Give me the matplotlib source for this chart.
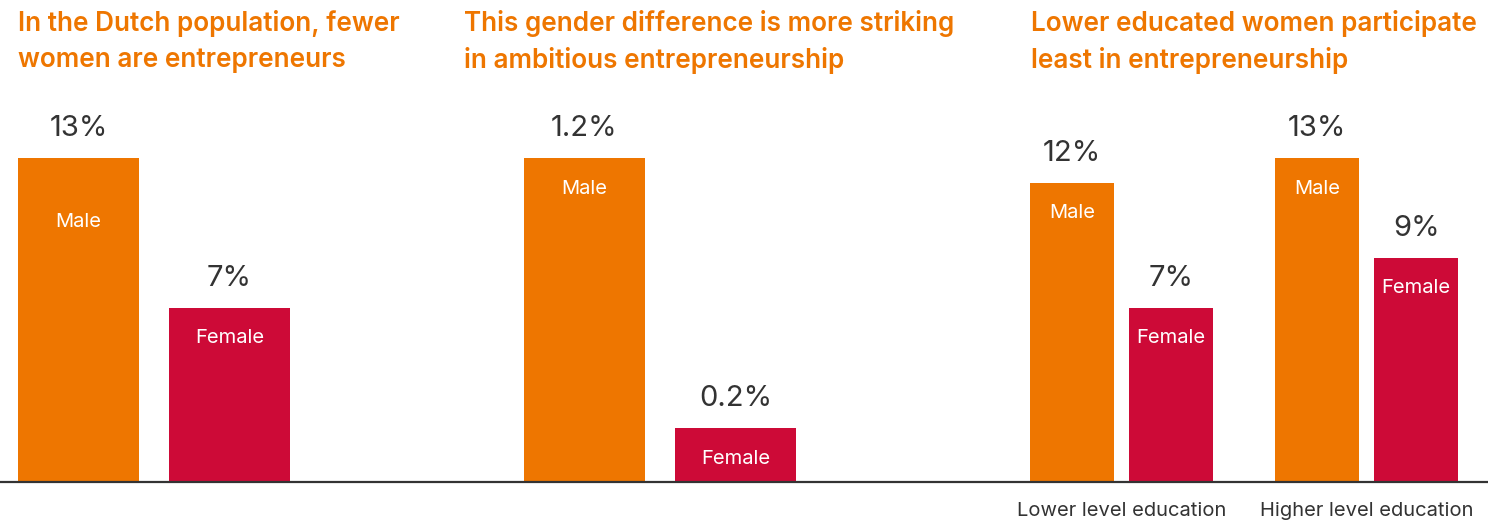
import matplotlib
matplotlib.use("Agg")
import matplotlib.pyplot as plt
from matplotlib.lines import Line2D

plt.rcParams['font.family'] = ['Inter', 'DejaVu Sans']

ORANGE = '#EE7600'
RED = '#CD0A37'
TEXT = '#333333'

# --- data ---
titles = [
    "In the Dutch population, fewer\nwomen are entrepreneurs",
    "This gender difference is more striking\nin ambitious entrepreneurship",
    "Lower educated women participate\nleast in entrepreneurship",
]
sexes = ["Male", "Female"]
population = [13, 7]          # % entrepreneurs
ambitious = [1.2, 0.2]        # % ambitious entrepreneurs
edu_groups = ["Lower level education", "Higher level education"]
edu_male = [12, 13]
edu_female = [7, 9]

W, H = 1488, 521
fig = plt.figure(figsize=(W / 100, H / 100), dpi=100)

base_px = 482      # baseline, pixels from top
top_px = 158       # height of the tallest bar

def add_axes(left, right):
    return fig.add_axes([left / W, 1 - base_px / H, (right - left) / W, (base_px - top_px) / H])

def value_label(ax, x, v):
    txt = f"{v:g}%"
    ax.annotate(txt, (x, v), xytext=(0, 21), textcoords='offset points',
                ha='center', va='center', fontsize=21, color=TEXT, annotation_clip=False)

def inside_label(ax, x, v, txt, drop=22):
    ax.annotate(txt, (x, v), xytext=(0, -drop), textcoords='offset points',
                ha='center', va='center', fontsize=14.5, color='white', annotation_clip=False)

def clean(ax):
    ax.set_axis_off()

# panel 1
ax1 = add_axes(18, 290)
ax1.bar([0, 1], population, width=0.8, color=[ORANGE, RED])
ax1.set_xlim(-0.4, 1.4)
ax1.set_ylim(0, 13)
for i, v in enumerate(population):
    value_label(ax1, i, v)
inside_label(ax1, 0, population[0], sexes[0], drop=46)
inside_label(ax1, 1, population[1], sexes[1])
clean(ax1)

# panel 2
ax2 = add_axes(524, 796)
ax2.bar([0, 1], ambitious, width=0.8, color=[ORANGE, RED])
ax2.set_xlim(-0.4, 1.4)
ax2.set_ylim(0, 1.2)
for i, v in enumerate(ambitious):
    value_label(ax2, i, v)
    inside_label(ax2, i, v, sexes[i])
clean(ax2)

# panel 3
ax3 = add_axes(1030, 1458)
gap = 0.405
bw = 0.342
xs = range(len(edu_groups))
xm = [x - gap / 2 for x in xs]
xf = [x + gap / 2 for x in xs]
ax3.bar(xm, edu_male, width=bw, color=ORANGE)
ax3.bar(xf, edu_female, width=bw, color=RED)
ax3.set_xlim(-gap / 2 - bw / 2, 1 + gap / 2 + bw / 2)
ax3.set_ylim(0, 13)
for x, v in zip(xm, edu_male):
    value_label(ax3, x, v)
    inside_label(ax3, x, v, sexes[0])
for x, v in zip(xf, edu_female):
    value_label(ax3, x, v)
    inside_label(ax3, x, v, sexes[1])
for x, g in zip(xs, edu_groups):
    ax3.annotate(g, (x, 0), xytext=(0, -21), textcoords='offset points',
                 ha='center', va='center', fontsize=14.5, color=TEXT, annotation_clip=False)
clean(ax3)

# titles
for x_px, t in zip([18, 464, 1031], titles):
    fig.text(x_px / W, 1 - 10 / H, t, ha='left', va='top', fontsize=18.8,
             fontweight='semibold', color=ORANGE, linespacing=1.5)

# baseline across the whole width
fig.add_artist(Line2D([0, 1], [1 - base_px / H] * 2, transform=fig.transFigure,
                      color=TEXT, lw=1.6))

fig.savefig('out.png', dpi=100)
